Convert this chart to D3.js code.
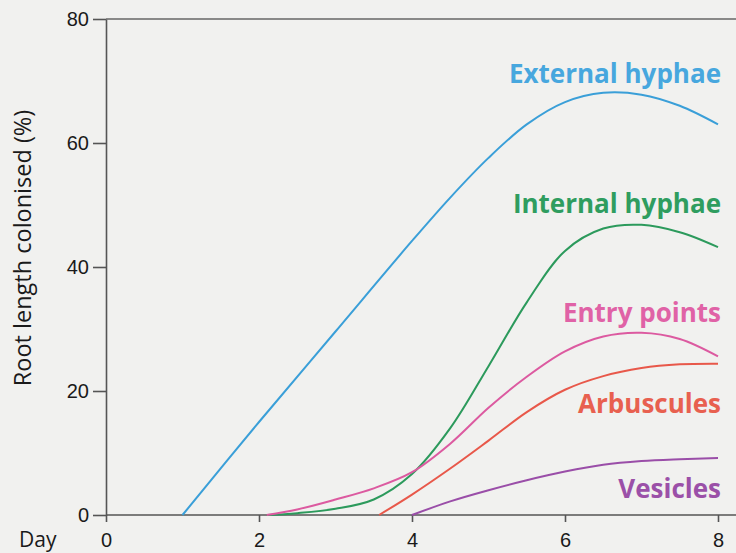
<!DOCTYPE html>
<html>
<head>
<meta charset="utf-8">
<script src="https://cdn.jsdelivr.net/npm/d3@7"></script>
<style>
    body { margin: 0; background: #f1f1ef; }
    svg { display: block; font-family: "Open Sans", Lato, sans-serif; }
    .axis path, .axis line { stroke: #555; stroke-width: 1.6; }
    .axis text { font-size: 20px; fill: #1a1a1a; }
    .series-label { font-weight: bold; font-size: 26px; text-anchor: end; }
</style>
</head>
<body>
<svg width="736" height="553"></svg>
<script>
// values: [day, % root length colonised]
const seriesNames = ["External hyphae", "Internal hyphae", "Entry points", "Arbuscules", "Vesicles"]
const externalHyphae = [[1,0],[2,15],[3,29.6],[4,44.2],[4.5,51.2],[5,57.6],[5.5,63],[6,66.6],[6.5,68.1],[7,67.8],[7.5,66],[8,63]]
const internalHyphae = [[2.1,0],[2.5,0.3],[3,1],[3.5,2.5],[4,6.6],[4.5,14],[5,24],[5.5,34.3],[6,42.6],[6.5,46.2],[7,46.8],[7.5,45.6],[8,43.2]]
const entryPoints = [[2.1,0],[2.5,0.9],[3,2.5],[3.5,4.3],[4,6.9],[4.5,11.5],[5,17.3],[5.5,22.3],[6,26.4],[6.5,28.8],[7,29.4],[7.5,28.4],[8,25.6]]
const arbuscules = [[3.57,0],[4,3.3],[4.5,7.5],[5,12],[5.5,16.6],[6,20.2],[6.5,22.4],[7,23.7],[7.5,24.3],[8,24.4]]
const vesicles = [[4,0],[4.5,2.2],[5,4],[5.5,5.6],[6,7],[6.5,8.1],[7,8.7],[7.5,9],[8,9.2]]
const xTicks = [0, 2, 4, 6, 8]
const yTicks = [0, 20, 40, 60, 80]

const allSeries = [externalHyphae, internalHyphae, entryPoints, arbuscules, vesicles]
const colors = ["#3a9fd8", "#2c9a5c", "#dc5aa0", "#e8584a", "#9a4ea8"]
const labelColors = ["#47a7de", "#2f9d5f", "#e062a6", "#e8604f", "#9b50a8"]
const labelY = [83, 213, 322, 413, 498]

const svg = d3.select("svg")

const scaleX = d3.scaleLinear()
    .domain([0, 8])
    .range([106, 718])
const scaleY = d3.scaleLinear()
    .domain([0, 80])
    .range([515, 19])

// top frame line
svg.append("line")
    .attr("x1", 106).attr("x2", 736)
    .attr("y1", scaleY(80)).attr("y2", scaleY(80))
    .attr("stroke", "#666")
    .attr("stroke-width", 1.6)

const axisX = d3.axisBottom(scaleX)
    .tickValues(xTicks)
    .tickSize(7)
    .tickSizeOuter(0)
    .tickPadding(11)
const axisY = d3.axisLeft(scaleY)
    .tickValues(yTicks)
    .tickSize(13)
    .tickSizeOuter(0)
    .tickPadding(4)

const axisXGroup = svg.append("g")
    .attr("class", "axis")
    .attr("transform", `translate(0,${scaleY(0)})`)
    .call(axisX)
axisXGroup.select(".domain")
    .attr("d", `M${scaleX(0)},0H736`)

svg.append("g")
    .attr("class", "axis")
    .attr("transform", `translate(${scaleX(0)},0)`)
    .call(axisY)

svg.append("text")
    .attr("x", 19)
    .attr("y", 547)
    .attr("font-size", 21)
    .attr("fill", "#1a1a1a")
    .text("Day")

svg.append("text")
    .attr("transform", "translate(31,248) rotate(-90)")
    .attr("text-anchor", "middle")
    .attr("font-size", 23.5)
    .attr("fill", "#1a1a1a")
    .text("Root length colonised (%)")

const lineGen = d3.line()
    .x(d => scaleX(d[0]))
    .y(d => scaleY(d[1]))
    .curve(d3.curveCatmullRom.alpha(0.5))

svg.selectAll("path.series")
    .data(allSeries)
    .enter()
    .append("path")
    .attr("class", "series")
    .attr("d", d => lineGen(d))
    .attr("fill", "none")
    .attr("stroke", (d, i) => colors[i])
    .attr("stroke-width", 2)

svg.selectAll("text.series-label")
    .data(seriesNames)
    .enter()
    .append("text")
    .attr("class", "series-label")
    .attr("x", 721)
    .attr("y", (d, i) => labelY[i])
    .attr("fill", (d, i) => labelColors[i])
    .text(d => d)
</script>
</body>
</html>
